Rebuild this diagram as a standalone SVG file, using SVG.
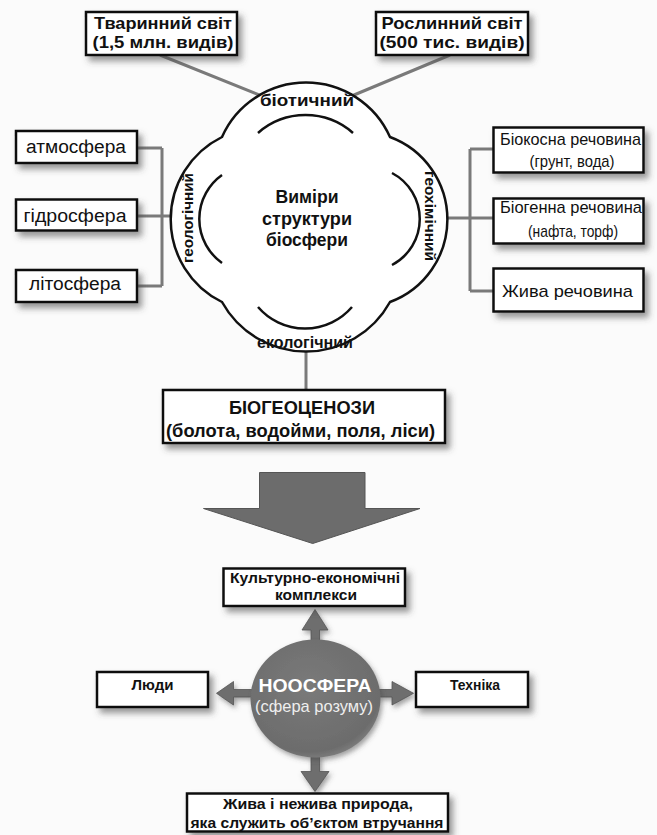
<svg xmlns="http://www.w3.org/2000/svg" width="657" height="835" viewBox="0 0 657 835">
<defs>
<filter id="sh" x="-20%" y="-30%" width="150%" height="180%">
<feDropShadow dx="4" dy="5" stdDeviation="3" flood-color="#444" flood-opacity="0.55"/>
</filter>
<filter id="sh2" x="-20%" y="-20%" width="150%" height="150%">
<feDropShadow dx="2" dy="3" stdDeviation="2.5" flood-color="#444" flood-opacity="0.5"/>
</filter>
<radialGradient id="ng" cx="0.45" cy="0.4" r="0.65">
<stop offset="0" stop-color="#7a7a7a"/>
<stop offset="0.85" stop-color="#6c6c6c"/>
<stop offset="1" stop-color="#858585"/>
</radialGradient>
<style>
.box{fill:#fff;stroke:#111;stroke-width:2.5;filter:url(#sh)}
.conn{stroke:#7a7a7a;stroke-width:3;fill:none}
.cl{stroke:#111;stroke-width:2.5;fill:none}
.t{font-family:"Liberation Sans","DejaVu Sans",sans-serif;fill:#111;text-anchor:middle}
.b{font-weight:bold}
.ar{fill:#6e6e6e;stroke:#555;stroke-width:0.8;filter:url(#sh2)}
</style>
</defs>
<rect width="657" height="835" fill="#fbfbfb"/>

<g id="connectors">
<path class="conn" d="M160 55 L272 100 M450 55 L342 100"/>
<path class="conn" d="M137 148 H162 M137 216 H190 M137 286 H162 M162 148 V286"/>
<path class="conn" d="M430 218 H493 M470 149 V291 M470 149 H493 M470 291 H493"/>
<path class="conn" d="M306 335 V390"/>
</g>

<g id="cloud">
<path d="M222 137 A92 92 0 0 1 390 137 A88 88 0 0 1 390 302 A96 96 0 0 1 222 302 A92 92 0 0 1 222 137 Z" fill="#fff" stroke="#111" stroke-width="2.5"/>
<path class="cl" d="M258 133 A72 72 0 0 1 353 133"/>
<path class="cl" d="M222 175 A54 54 0 0 0 222 263"/>
<path class="cl" d="M392 173 A52 52 0 0 1 392 265"/>
<path class="cl" d="M258 307 A62 62 0 0 0 352 307"/>
<text class="t b" x="307" y="106" font-size="16" textLength="94" lengthAdjust="spacingAndGlyphs">біотичний</text>
<text class="t b" x="305" y="348" font-size="16" textLength="96" lengthAdjust="spacingAndGlyphs">екологічний</text>
<text class="t b" font-size="15" textLength="90" lengthAdjust="spacingAndGlyphs" transform="translate(193 218) rotate(-90)">геологічний</text>
<text class="t b" font-size="15" textLength="90" lengthAdjust="spacingAndGlyphs" transform="translate(425 216) rotate(90)">геохімічний</text>
<text class="t b" x="307" y="203" font-size="18" textLength="63" lengthAdjust="spacingAndGlyphs">Виміри</text>
<text class="t b" x="307" y="225" font-size="18" textLength="90" lengthAdjust="spacingAndGlyphs">структури</text>
<text class="t b" x="307" y="245.5" font-size="18" textLength="82" lengthAdjust="spacingAndGlyphs">біосфери</text>
</g>

<g id="animal">
<rect class="box" x="86" y="12" width="151" height="43"/>
<text class="t b" x="163" y="29" font-size="17" textLength="138" lengthAdjust="spacingAndGlyphs">Тваринний світ</text>
<text class="t b" x="163" y="48" font-size="17" textLength="141" lengthAdjust="spacingAndGlyphs">(1,5 млн. видів)</text>
</g>
<g id="plant">
<rect class="box" x="376" y="12" width="152" height="43"/>
<text class="t b" x="452" y="29" font-size="17" textLength="141" lengthAdjust="spacingAndGlyphs">Рослинний світ</text>
<text class="t b" x="452" y="48" font-size="17" textLength="145" lengthAdjust="spacingAndGlyphs">(500 тис. видів)</text>
</g>

<g id="atmosphere">
<rect class="box" x="16" y="131" width="121" height="32"/>
<text class="t" x="76" y="153" font-size="18" textLength="100" lengthAdjust="spacingAndGlyphs">атмосфера</text>
</g>
<g id="hydrosphere">
<rect class="box" x="16" y="199.5" width="121" height="31"/>
<text class="t" x="75" y="221.5" font-size="18" textLength="103" lengthAdjust="spacingAndGlyphs">гідросфера</text>
</g>
<g id="lithosphere">
<rect class="box" x="16" y="270" width="121" height="32"/>
<text class="t" x="75" y="290" font-size="18" textLength="92" lengthAdjust="spacingAndGlyphs">літосфера</text>
</g>

<g id="bioinert">
<rect class="box" x="493.5" y="127.5" width="150" height="45"/>
<text class="t" x="570.5" y="145" font-size="17" textLength="141" lengthAdjust="spacingAndGlyphs">Біокосна речовина</text>
<text class="t" x="572" y="166.5" font-size="17" textLength="85" lengthAdjust="spacingAndGlyphs">(грунт, вода)</text>
</g>
<g id="biogenic">
<rect class="box" x="493.5" y="198.5" width="150" height="45"/>
<text class="t" x="571" y="213" font-size="17" textLength="142" lengthAdjust="spacingAndGlyphs">Біогенна речовина</text>
<text class="t" x="573" y="236.5" font-size="17" textLength="90" lengthAdjust="spacingAndGlyphs">(нафта, торф)</text>
</g>
<g id="living">
<rect class="box" x="493.5" y="268.5" width="150" height="43"/>
<text class="t" x="567.5" y="296.5" font-size="17" textLength="131" lengthAdjust="spacingAndGlyphs">Жива речовина</text>
</g>

<g id="biogeocenoses">
<rect class="box" x="163" y="390" width="282" height="53"/>
<text class="t b" x="302" y="414" font-size="18" textLength="146" lengthAdjust="spacingAndGlyphs">БІОГЕОЦЕНОЗИ</text>
<text class="t b" x="300.5" y="437" font-size="18" textLength="269" lengthAdjust="spacingAndGlyphs">(болота, водойми, поля, ліси)</text>
</g>

<g id="big-arrow">
<polygon points="259.5,472.5 365,472.5 365,508.5 420,508.5 312.7,543.5 203.5,508.5 259.5,508.5" fill="#6c6c6c" stroke="#555" stroke-width="1"/>
</g>

<g id="noo-arrows">
<path class="ar" d="M311 643 V630 H302 L315 609.5 L328 630 H319.5 V643 Z"/>
<path class="ar" d="M252 689.5 H233.5 V681.5 L216.5 693.3 L233.5 705 V697 H252 Z"/>
<path class="ar" d="M378 689.5 H392 V681.5 L413.5 693.3 L392 705 V697 H378 Z"/>
<path class="ar" d="M311 755 V771.5 H301 L315 791.5 L329 771.5 H319.5 V755 Z"/>
</g>

<g id="noosphere">
<ellipse cx="315.5" cy="698.5" rx="65" ry="59" fill="url(#ng)" filter="url(#sh2)"/>
<text class="t b" x="315" y="691.5" font-size="18" style="fill:#fff" textLength="113" lengthAdjust="spacingAndGlyphs">НООСФЕРА</text>
<text class="t" x="314" y="712" font-size="17" style="fill:#eeeeee" textLength="118" lengthAdjust="spacingAndGlyphs">(сфера розуму)</text>
</g>

<g id="culture">
<rect class="box" x="223.5" y="568.5" width="181.5" height="37.5"/>
<text class="t b" x="315" y="583" font-size="15" textLength="170" lengthAdjust="spacingAndGlyphs">Культурно-економічні</text>
<text class="t b" x="316" y="600" font-size="15" textLength="82" lengthAdjust="spacingAndGlyphs">комплекси</text>
</g>
<g id="people">
<rect class="box" x="97" y="672" width="111" height="35"/>
<text class="t b" x="152.5" y="690" font-size="15" textLength="42" lengthAdjust="spacingAndGlyphs">Люди</text>
</g>
<g id="technics">
<rect class="box" x="416" y="672" width="112" height="35"/>
<text class="t b" x="475" y="690" font-size="15" textLength="50" lengthAdjust="spacingAndGlyphs">Техніка</text>
</g>
<g id="nature">
<rect class="box" x="187" y="793.5" width="261" height="38"/>
<text class="t b" x="318" y="809" font-size="15" textLength="190" lengthAdjust="spacingAndGlyphs">Жива і нежива природа,</text>
<text class="t b" x="317" y="828" font-size="15" textLength="253" lengthAdjust="spacingAndGlyphs">яка служить об’єктом втручання</text>
</g>
</svg>
